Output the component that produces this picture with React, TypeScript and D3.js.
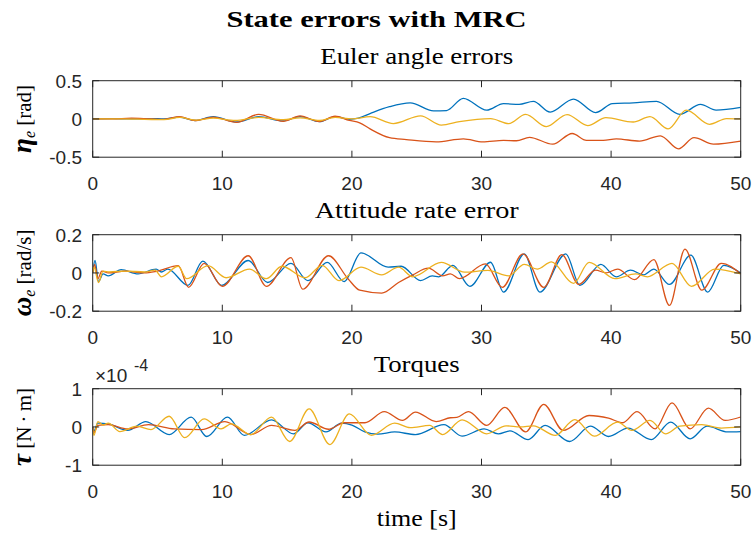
import React from 'react';
import * as d3 from 'd3';

// ---------- data ----------
const xTicks = [0, 10, 20, 30, 40, 50];
const xTickLabels = ['0', '10', '20', '30', '40', '50'];

const etaTicks = [0.5, 0, -0.5];
const etaTickLabels = ['0.5', '0', '-0.5'];
const omegaTicks = [0.2, 0, -0.2];
const omegaTickLabels = ['0.2', '0', '-0.2'];
const tauTicks = [1, 0, -1];
const tauTickLabels = ['1', '0', '-1'];

const seriesColors = ['#0072BD', '#D95319', '#EDB120'];

// Euler angle errors [rad]  (t, value)
const etaBlue: [number, number][] = [
  [0, 0], [1.5, 0.005], [3, 0], [4.5, 0.005], [5.5, 0], [6.7, 0.025], [7.9, -0.02], [9.3, 0.03],
  [11.1, -0.04], [12.8, 0.03], [14.7, -0.025], [16.0, 0.03], [17.5, -0.035], [18.7, 0.03],
  [19.8, -0.005], [20.5, 0.01], [21.4, 0.07], [22.9, 0.16], [24.5, 0.21], [26.3, 0.105],
  [27.3, 0.11], [28.6, 0.27], [30.4, 0.115], [31.7, 0.2], [32.9, 0.19], [34.0, 0.23],
  [35.3, 0.09], [37.1, 0.26], [38.8, 0.083], [40.1, 0.2], [41.7, 0.21], [43.5, 0.23],
  [45.3, 0.06], [46.9, 0.19], [48.1, 0.115], [50, 0.15],
];
const etaRed: [number, number][] = [
  [0, 0], [1.5, 0], [3, 0.01], [4.5, 0], [5.5, -0.005], [6.7, 0.03], [7.9, -0.02], [9.3, 0.025],
  [11.1, -0.045], [12.8, 0.06], [14.7, -0.03], [16.0, 0.04], [17.5, -0.035], [18.7, 0.035],
  [19.8, -0.02], [20.6, -0.05], [21.4, -0.13], [22.9, -0.245], [24.2, -0.27], [26.5, -0.3],
  [28.6, -0.26], [30.1, -0.3], [31.7, -0.28], [32.7, -0.285], [33.7, -0.24], [35.5, -0.33],
  [37.0, -0.19], [38.1, -0.28], [39.4, -0.28], [40.4, -0.26], [42.2, -0.29], [43.8, -0.22],
  [45.2, -0.39], [46.4, -0.245], [47.9, -0.33], [50, -0.29],
];
const etaYellow: [number, number][] = [
  [0, 0], [2, 0], [4, -0.005], [5.5, -0.01], [6.7, 0.02], [8, -0.015], [9.3, 0.01], [11, -0.02],
  [12.8, 0.02], [14.7, -0.01], [16, 0.015], [17.5, -0.02], [18.7, 0.02], [20, 0], [21.4, 0.03],
  [23.2, -0.06], [25.3, 0.04], [26.9, -0.08], [28.3, -0.035], [30.7, 0.005], [32.1, -0.06],
  [33.4, 0.06], [35.0, -0.1], [36.6, 0.057], [38.2, -0.087], [39.6, 0.018], [41.7, -0.04],
  [43.0, 0.03], [44.4, -0.13], [45.8, 0.115], [47.6, -0.07], [48.9, 0.005], [50, 0],
];

// Attitude rate error [rad/s]
const omegaBlue: [number, number][] = [
  [0, 0], [0.18, 0.065], [0.45, -0.045], [0.8, -0.005], [1.2, -0.015], [2.2, 0.017], [3.5, -0.005],
  [4.9, 0.02], [5.3, 0.005], [5.8, 0.02], [7.35, -0.065], [8.5, 0.062], [9.95, -0.065], [12.0, 0.065],
  [13.5, -0.05], [15.3, 0.05], [16.6, -0.04], [18.1, 0.055], [19.4, -0.045], [20.7, 0.105],
  [22.8, 0.03], [23.8, 0.035], [25.3, -0.04], [26.2, -0.015], [26.7, -0.02], [27.8, 0.04],
  [29.1, -0.07], [30.7, 0.056], [31.7, -0.1], [33.3, 0.1], [34.5, -0.1], [36.5, 0.1], [37.6, -0.065],
  [39.2, 0.045], [40.4, -0.02], [41.5, 0.015], [42.5, -0.01], [43.3, 0.02], [44.5, -0.06],
  [46.15, 0.093], [47.45, -0.1], [48.7, 0.04], [50, 0],
];
const omegaRed: [number, number][] = [
  [0, 0], [0.15, 0.045], [0.4, -0.03], [0.7, 0.01], [1.2, 0], [2.5, 0.01], [4, 0], [5, 0.01],
  [6.6, 0.038], [7.4, -0.075], [8.6, 0.05], [10.0, -0.07], [12.0, 0.09], [13.4, -0.07], [15.3, 0.08],
  [16.2, -0.085], [18.2, 0.09], [19.7, -0.03], [20.6, -0.09], [22.3, -0.105], [23.6, -0.05],
  [24.7, -0.01], [25.9, 0.025], [27.0, -0.015], [27.6, -0.005], [28.3, -0.03], [30.3, 0.047],
  [31.6, -0.075], [33.2, 0.1], [34.8, -0.075], [36.2, 0.096], [37.5, -0.06], [38.8, 0.015],
  [39.6, 0], [40.5, 0.02], [41.8, -0.035], [43.3, 0.07], [44.5, -0.17], [45.7, 0.125], [47.0, -0.09],
  [48.5, 0.05], [50, -0.005],
];
const omegaYellow: [number, number][] = [
  [0, 0], [0.1, 0.03], [0.45, -0.05], [0.8, 0.01], [1.3, 0.005], [2.5, 0.01], [4, 0.005], [4.8, 0.015],
  [5.3, -0.02], [6.6, 0.035], [7.25, -0.03], [8.9, 0.038], [10.3, -0.025], [12.1, 0.02], [13.4, -0.03],
  [14.6, 0.035], [16.4, -0.025], [17.7, 0.04], [19.0, -0.04], [20.7, 0.03], [22.3, -0.01],
  [23.6, 0.03], [24.7, -0.02], [26.9, 0.055], [28.7, 0.004], [30.5, 0.013], [32.1, -0.015],
  [33.3, 0.045], [34.3, 0.02], [35.4, 0.058], [37.1, -0.055], [38.3, 0.055], [40.3, -0.03],
  [41.9, -0.005], [42.8, -0.02], [44.7, 0.05], [46.2, -0.07], [48.0, 0.02], [50, -0.005],
];

// Torques [N·m] in units of 1e-4
const tauBlue: [number, number][] = [
  [0, 0], [0.1, -0.1], [0.4, 0.1], [1.2, 0.08], [2.7, -0.09], [4.1, 0.14], [5.9, -0.2], [7.6, 0.255],
  [8.8, -0.25], [10.4, 0.255], [11.7, -0.22], [13.8, 0.185], [15.5, -0.18], [16.6, 0.11], [18.0, -0.13],
  [19.2, 0.1], [20.0, 0.05], [21.0, -0.13], [22.0, -0.19], [23.3, -0.13], [24.9, -0.2], [27.1, 0.06],
  [28.5, -0.24], [30.2, -0.05], [31.3, -0.18], [32.2, -0.1], [33.6, -0.33], [34.9, 0.04], [36.8, -0.38],
  [38.4, 0.02], [39.8, -0.25], [41.3, -0.03], [43.1, -0.33], [44.6, 0.125], [46.1, -0.31], [47.4, 0.02],
  [49.0, -0.13], [50, -0.12],
];
const tauRed: [number, number][] = [
  [0, 0], [0.1, -0.15], [0.4, 0.04], [1.2, 0.06], [2.7, -0.05], [4.3, 0.06], [6.3, -0.05], [8.4, -0.07],
  [10.2, 0.14], [12.2, -0.2], [13.8, 0.04], [15.6, -0.09], [16.7, 0.13], [18.2, -0.06], [19.4, 0.11],
  [21.0, 0.11], [22.5, 0.4], [23.9, 0.17], [24.9, 0.39], [26.5, 0.14], [27.6, 0.24], [28.1, 0.25],
  [29.0, 0.4], [30.4, 0.04], [31.8, 0.51], [33.4, -0.13], [34.8, 0.59], [36.3, -0.09], [38.3, 0.3],
  [39.8, 0.23], [40.9, 0.11], [42.0, 0.4], [43.4, -0.05], [44.7, 0.63], [46.1, -0.05], [47.5, 0.49],
  [48.8, 0.17], [50, 0.26],
];
const tauYellow: [number, number][] = [
  [0, 0], [0.1, -0.22], [0.4, 0.14], [0.8, 0.05], [1.2, 0.1], [2.1, -0.12], [3.4, 0.02], [4.5, -0.07],
  [5.9, 0.28], [7.1, -0.28], [8.6, 0.21], [9.9, -0.05], [10.7, 0.08], [12.2, -0.2], [13.8, 0.255],
  [15.2, -0.38], [16.7, 0.47], [18.3, -0.46], [19.8, 0.34], [21.5, -0.22], [23.3, 0.1], [24.5, -0.02],
  [26.0, 0.04], [27.0, -0.2], [28.5, 0.185], [30.4, -0.18], [31.9, 0.03], [33.0, 0], [34.0, 0.03],
  [35.7, -0.22], [37.2, 0.19], [38.7, -0.24], [40.5, 0.125], [41.6, -0.09], [43.0, 0.17], [44.2, -0.18],
  [45.3, 0.02], [47.0, 0.06], [48.5, -0.03], [50, 0],
];

// ---------- layout ----------
const W = 753;
const H = 534;
const X0 = 92.7;
const X1 = 740.7;
const PH = 76.5;
const SANS = "'Liberation Sans', Arial, Helvetica, sans-serif";
const SERIF = "'Liberation Serif', 'Times New Roman', serif";
const AXC = '#262626';

type Panel = {
  top: number;
  domain: [number, number];
  ticks: number[];
  tickLabels: string[];
  series: [number, number][][];
  title: string;
  titleLen: number;
  sym: string;
  sub: boolean;
  unit: string;
};

const panels: Panel[] = [
  { top: 80.7, domain: [-0.5, 0.5], ticks: etaTicks, tickLabels: etaTickLabels,
    series: [etaBlue, etaRed, etaYellow], title: 'Euler angle errors', titleLen: 193, sym: 'η', sub: true, unit: '[rad]' },
  { top: 234.7, domain: [-0.2, 0.2], ticks: omegaTicks, tickLabels: omegaTickLabels,
    series: [omegaBlue, omegaRed, omegaYellow], title: 'Attitude rate error', titleLen: 204, sym: 'ω', sub: true, unit: '[rad/s]' },
  { top: 388.7, domain: [-1, 1], ticks: tauTicks, tickLabels: tauTickLabels,
    series: [tauBlue, tauRed, tauYellow], title: 'Torques', titleLen: 86, sym: 'τ', sub: false, unit: '[N\u2009·\u2009m]' },
];

const x = d3.scaleLinear().domain([0, 50]).range([X0, X1]);

function PanelView({ p, i }: { p: Panel; i: number }) {
  const y = d3.scaleLinear().domain(p.domain).range([p.top + PH, p.top]);
  const line = d3.line<[number, number]>()
    .x((d) => x(d[0]))
    .y((d) => y(d[1]))
    .curve(d3.curveMonotoneX);
  const bottom = p.top + PH;
  const cy = p.top + PH / 2;
  const tl = 6.5;
  return (
    <g>
      <defs>
        <clipPath id={`clip${i}`}>
          <rect x={X0} y={p.top} width={X1 - X0} height={PH} />
        </clipPath>
      </defs>
      <g clipPath={`url(#clip${i})`}>
        {p.series.map((s, k) => (
          <path key={k} d={line(s) || ''} fill="none" stroke={seriesColors[k]} strokeWidth={1.3} />
        ))}
      </g>
      <rect x={X0} y={p.top} width={X1 - X0} height={PH} fill="none" stroke={AXC} strokeWidth={1} />
      {xTicks.map((t, k) => (
        <g key={k}>
          <line x1={x(t)} x2={x(t)} y1={bottom} y2={bottom - tl} stroke={AXC} strokeWidth={1} />
          <line x1={x(t)} x2={x(t)} y1={p.top} y2={p.top + tl} stroke={AXC} strokeWidth={1} />
          <text x={x(t)} y={bottom + 33} textAnchor="middle" fontFamily={SANS} fontSize={19} fill="#262626">
            {xTickLabels[k]}
          </text>
        </g>
      ))}
      {p.ticks.map((v, k) => (
        <g key={k}>
          <line x1={X0} x2={X0 + tl} y1={y(v)} y2={y(v)} stroke={AXC} strokeWidth={1} />
          <line x1={X1} x2={X1 - tl} y1={y(v)} y2={y(v)} stroke={AXC} strokeWidth={1} />
          <text x={82} y={y(v) + 6.8} textAnchor="end" fontFamily={SANS} fontSize={19} fill="#262626">
            {p.tickLabels[k]}
          </text>
        </g>
      ))}
      <text x={(X0 + X1) / 2} y={p.top - 17} textAnchor="middle" fontFamily={SERIF} fontSize={24}
        textLength={p.titleLen} lengthAdjust="spacingAndGlyphs" fill="#000">
        {p.title}
      </text>
      <text transform={`translate(31,${cy}) rotate(-90)`} textAnchor="middle" fontFamily={SERIF} fontSize={21} fill="#000">
        <tspan fontWeight="bold" fontStyle="italic" fontSize={27}>{p.sym}</tspan>
        {p.sub ? <tspan fontStyle="italic" fontSize={16} dy={4}>e</tspan> : null}
        <tspan dy={p.sub ? -4 : 0}>{'\u00a0' + p.unit}</tspan>
      </text>
    </g>
  );
}

export default function App() {
  return (
    <svg width={W} height={H} style={{ position: 'absolute', left: 0, top: 0, background: '#fff' }}>
      <rect x={0} y={0} width={W} height={H} fill="#fff" />
      <text x={W / 2} y={27} textAnchor="middle" fontFamily={SERIF} fontWeight="bold" fontSize={24}
        textLength={300} lengthAdjust="spacingAndGlyphs" fill="#000">
        State errors with MRC
      </text>
      {panels.map((p, i) => (
        <PanelView key={i} p={p} i={i} />
      ))}
      <text x={95} y={382} fontFamily={SANS} fontSize={19} fill="#262626">×10</text>
      <text x={134} y={371} fontFamily={SANS} fontSize={16} fill="#262626">-4</text>
      <text x={(X0 + X1) / 2} y={526} textAnchor="middle" fontFamily={SERIF} fontSize={24}
        textLength={80} lengthAdjust="spacingAndGlyphs" fill="#000">
        time [s]
      </text>
    </svg>
  );
}
